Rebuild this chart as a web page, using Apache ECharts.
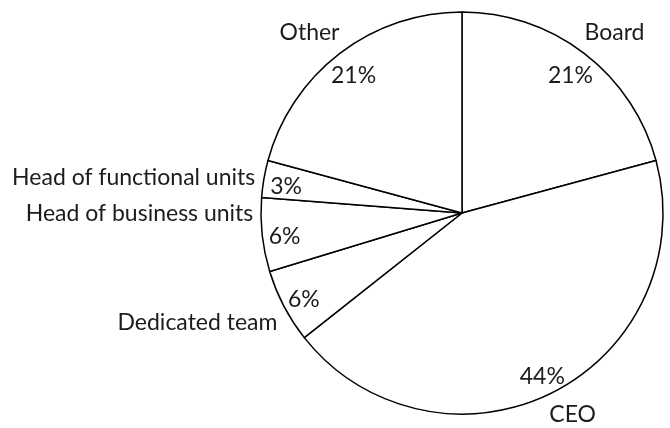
<!DOCTYPE html>
<html>
<head>
<meta charset="utf-8">
<script src="https://cdn.jsdelivr.net/npm/echarts@6/dist/echarts.min.js"></script>
<style>
  html, body { margin: 0; padding: 0; background: #fff; }
  #chart { width: 670px; height: 428px; }
</style>
</head>
<body>
<div id="chart"></div>
<script>
// Who drives the initiative (share of respondents, %)
const categories = ['Board', 'CEO', 'Dedicated team', 'Head of business units', 'Head of functional units', 'Other'];
const shares = [21, 44, 6, 6, 3, 21];

const FONT = 'Lato, "Open Sans", sans-serif';
const TEXT = '#1c1c1c';
const CENTER = [462, 213];
const R = 201;

// small vertical nudges for the name labels
const nameNudge = {
  'Board': -3,
  'CEO': 2,
  'Dedicated team': 6,
  'Head of business units': -24,
  'Head of functional units': 3,
  'Other': -3
};

const pieData = categories.map((c, i) => ({ name: c, value: shares[i] }));

const chart = echarts.init(document.getElementById('chart'), null, { renderer: 'canvas' });
chart.setOption({
  backgroundColor: '#ffffff',
  animation: false,
  series: [
    {
      // slices, with category names outside the rim
      type: 'pie',
      center: CENTER,
      radius: [0, R],
      startAngle: 90,
      clockwise: true,
      avoidLabelOverlap: false,
      silent: true,
      data: pieData,
      itemStyle: { color: '#ffffff', borderColor: '#000000', borderWidth: 1.5 },
      label: {
        show: true,
        position: 'outside',
        formatter: '{b}',
        color: TEXT,
        fontFamily: FONT,
        fontSize: 23,
        distanceToLabelLine: 5
      },
      labelLine: { show: false, length: 22, length2: -18 },
      labelLayout: function (p) {
        return { dy: nameNudge[categories[p.dataIndex]] || 0 };
      }
    },
    {
      // percentage labels inside the slices, near the rim
      type: 'pie',
      center: CENTER,
      radius: [150, R],
      startAngle: 90,
      clockwise: true,
      silent: true,
      data: pieData,
      itemStyle: { color: 'rgba(0,0,0,0)', borderWidth: 0 },
      label: {
        show: true,
        position: 'inside',
        formatter: '{c}%',
        color: TEXT,
        fontFamily: FONT,
        fontSize: 23
      },
      labelLine: { show: false },
      labelLayout: function () {
        return { dy: 4 };
      }
    }
  ]
});
</script>
</body>
</html>
